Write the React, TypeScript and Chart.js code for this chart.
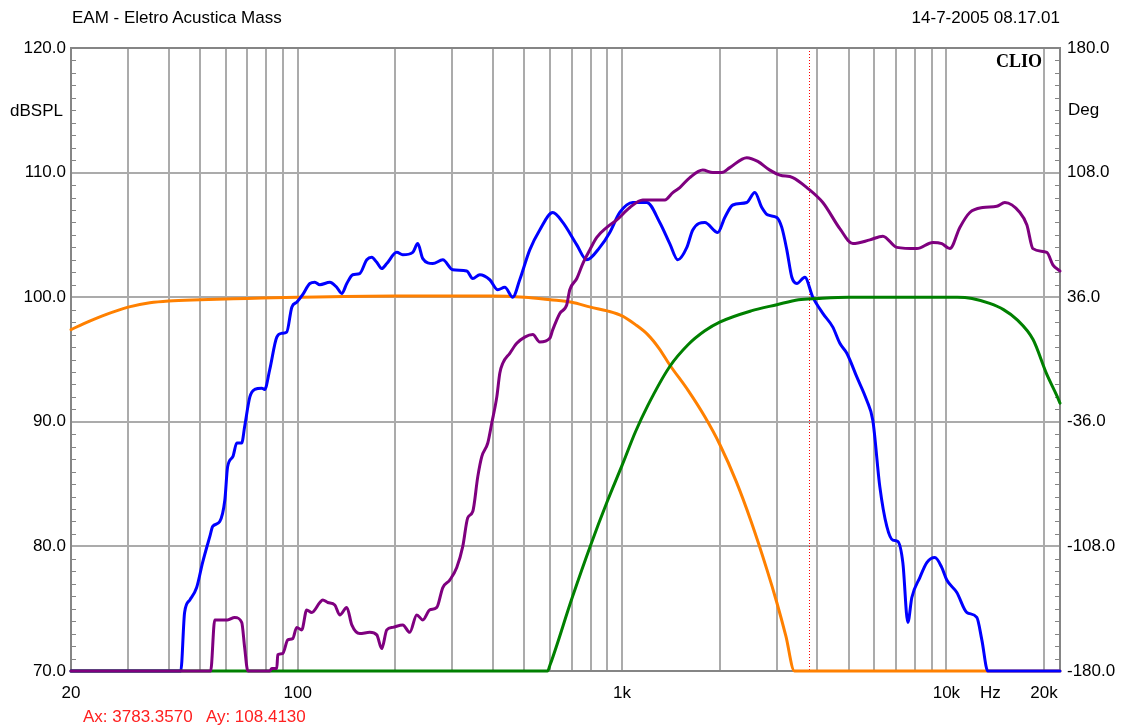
import React, { useEffect, useRef } from "react";
import { Chart, registerables } from "chart.js";

Chart.register(...registerables);

// ---- axis ticks ----
const X_GRID = [
  20, 30, 40, 50, 60, 70, 80, 90,
  100, 200, 300, 400, 500, 600, 700, 800, 900,
  1000, 2000, 3000, 4000, 5000, 6000, 7000, 8000, 9000,
  10000, 20000,
];
const X_LABELS: Record<number, string> = { 20: "20", 100: "100", 1000: "1k", 10000: "10k", 20000: "20k" };
const DB_TICKS = [70, 80, 90, 100, 110, 120];
const DEG_TICKS = [-180, -108, -36, 36, 108, 180];
const CURSOR_HZ = 3783.357;

// ---- series (Hz, dB SPL) ----
const BLUE_F = [20, 43.6, 44.8, 46.5, 48.8, 50.9, 53.6, 54.7, 57.5, 59.6, 60.8, 63.1, 64.9, 67.2, 68.6, 71.2, 73.7, 77.5, 79.1, 82.0, 86.2, 89.3, 92.5, 95.9, 99.3, 103.6, 109.0, 112.9, 117.0, 125.6, 131.9, 136.7, 141.7, 147.8, 155.3, 163.3, 169.1, 175.3, 181.6, 188.2, 202, 210.8, 226.3, 234.5, 243, 260.9, 280.1, 300.6, 332, 346.5, 364.2, 391, 413.9, 435, 460.3, 483.7, 519.3, 557.5, 611.6, 656.6, 725.2, 778.4, 853.7, 916.6, 984, 1079, 1192, 1307, 1403, 1485, 1584, 1652, 1799, 1973, 2074, 2195, 2424, 2566, 2697, 2813, 3000, 3108, 3221, 3338, 3458, 3660, 3874, 4159, 4465, 4693, 4932, 5294, 5684, 5932, 6233, 6551, 6836, 7084, 7340, 7605, 7824, 8281, 8702, 9213, 9681, 10030, 10770, 11560, 12410, 12860, 13420, 22400];
const BLUE_DB = [70, 70, 74.7, 75.7, 76.7, 78.7, 80.8, 81.6, 82.0, 83.7, 86.4, 87.2, 88.3, 88.3, 89.6, 92.0, 92.6, 92.7, 92.6, 94.2, 96.8, 97.1, 97.2, 99.2, 99.6, 100.2, 101.1, 101.2, 101.0, 101.2, 100.8, 100.3, 101.1, 101.8, 101.9, 103.0, 103.2, 102.8, 102.3, 102.7, 103.6, 103.4, 103.6, 104.3, 103.1, 102.7, 103.0, 102.2, 102.1, 101.5, 101.8, 101.4, 100.6, 100.8, 100.0, 101.4, 103.8, 105.4, 106.8, 106.0, 104.2, 103.0, 104.0, 105.2, 106.8, 107.6, 107.6, 106.0, 104.3, 103.0, 104.0, 105.4, 106.0, 105.2, 106.4, 107.4, 107.6, 108.4, 107.2, 106.6, 106.4, 105.6, 103.8, 101.6, 101.1, 101.6, 100.0, 98.7, 97.6, 96.3, 95.5, 93.6, 91.7, 90.1, 84.8, 81.6, 80.5, 80.4, 78.7, 73.9, 75.9, 77.5, 78.7, 79.1, 78.3, 77.3, 76.3, 74.7, 74.3, 72.5, 70, 70];

const PURPLE_F = [20, 53.9, 55.5, 60.8, 63.9, 67.2, 68.6, 70.2, 82.0, 83.2, 86.2, 86.8, 89.9, 93.2, 96.5, 99.3, 102.9, 106.6, 110.5, 117.0, 119.5, 123.8, 130.1, 134.8, 141.7, 146.8, 155.3, 166.8, 175.3, 181.6, 188.2, 196.4, 210.8, 221.5, 232.8, 243.0, 255.3, 268.4, 280.1, 294.3, 309.3, 322.8, 334.4, 346.5, 359.1, 369.4, 385.5, 396.6, 411.0, 419.8, 428.8, 450.7, 473.6, 501.2, 530.6, 557.5, 598.6, 611.6, 642.7, 675.4, 690.0, 725.2, 756.8, 795.3, 835.8, 897.4, 963.4, 1057, 1158, 1244, 1355, 1434, 1507, 1618, 1774, 1905, 2030, 2149, 2424, 2621, 2855, 3065, 3360, 3712, 4159, 4693, 5146, 5806, 6368, 7035, 8107, 9082, 9681, 10250, 11000, 11810, 12950, 14300, 15140, 16850, 17710, 18480, 20400, 21290, 22400];
const PURPLE_DB = [70, 70, 74.1, 74.1, 74.3, 73.9, 71.9, 70, 70, 70.2, 70.2, 71.3, 71.4, 72.5, 72.6, 73.5, 73.3, 74.9, 74.7, 75.5, 75.7, 75.5, 75.3, 74.5, 75.1, 73.7, 73.0, 73.1, 72.9, 71.8, 73.3, 73.5, 73.7, 73.1, 74.5, 74.1, 74.9, 75.1, 76.7, 77.3, 78.3, 80.0, 82.3, 82.8, 85.6, 87.2, 88.3, 89.9, 92.0, 93.9, 94.7, 95.5, 96.3, 96.8, 97.0, 96.4, 96.7, 97.4, 98.7, 99.4, 100.6, 101.5, 102.7, 103.8, 104.8, 105.6, 106.2, 107.2, 107.8, 107.8, 107.8, 108.4, 108.8, 109.6, 110.2, 110.0, 110.0, 110.4, 111.2, 110.9, 110.2, 109.8, 109.6, 108.8, 107.6, 105.5, 104.3, 104.6, 104.9, 104.0, 103.9, 104.4, 104.3, 103.9, 105.6, 106.8, 107.2, 107.3, 107.6, 106.8, 105.8, 103.9, 103.6, 102.6, 102.1];

const ORANGE_F = [20, 22, 25, 30, 35, 40, 50, 70, 100, 200, 400, 500, 600, 700, 800, 900, 1000, 1100, 1200, 1300, 1400, 1600, 1800, 2000, 2250, 2500, 2800, 3000, 3200, 3400, 22400];
const ORANGE_DB = [97.4, 97.9, 98.5, 99.2, 99.55, 99.7, 99.8, 99.9, 100.0, 100.1, 100.1, 100.0, 99.8, 99.6, 99.2, 98.9, 98.5, 97.8, 97.0, 95.9, 94.6, 92.5, 90.4, 88.2, 85.2, 82.0, 78.1, 75.5, 72.8, 70.0, 70.0];

const GREEN_F = [20, 589, 600, 700, 800, 900, 1000, 1100, 1200, 1400, 1600, 1800, 2000, 2500, 3000, 3500, 4000, 5000, 10000, 10800, 12000, 13600, 15000, 16500, 18500, 20400, 21900, 22400];
const GREEN_DB = [70, 70, 70.5, 75.8, 80.1, 83.6, 86.5, 89.2, 91.3, 94.4, 96.2, 97.3, 98.0, 98.9, 99.4, 99.8, 99.9, 100.0, 100.0, 100.0, 99.9, 99.5, 99.0, 98.2, 96.6, 93.8, 92.1, 91.5];

const FONT = '"Liberation Sans", Arial, sans-serif';
const GRID = "#ababab";
const FRAME = "#858585";

const zip = (f: number[], v: number[]) => f.map((x, i) => ({ x, y: v[i] }));

const framePlugin = {
  id: "clioFrame",
  beforeDatasetsDraw(chart: any) {
    const { ctx, chartArea: a, scales } = chart;
    ctx.save();
    // cursor
    const cx = Math.round(scales.x.getPixelForValue(CURSOR_HZ)) + 0.5;
    ctx.strokeStyle = "#ff0000";
    ctx.lineWidth = 1;
    ctx.setLineDash([1, 2]);
    ctx.beginPath();
    ctx.moveTo(cx, a.top);
    ctx.lineTo(cx, a.bottom);
    ctx.stroke();
    ctx.setLineDash([]);
    // minor ticks (1 dB)
    ctx.strokeStyle = FRAME;
    ctx.lineWidth = 1;
    ctx.beginPath();
    for (let v = 71; v < 120; v++) {
      if (v % 10 === 0) continue;
      const y = Math.round(scales.y.getPixelForValue(v)) + 0.5;
      ctx.moveTo(a.left, y);
      ctx.lineTo(a.left + 5, y);
      ctx.moveTo(a.right - 5, y);
      ctx.lineTo(a.right, y);
    }
    ctx.stroke();
    // frame
    ctx.lineWidth = 2;
    ctx.strokeStyle = FRAME;
    ctx.strokeRect(a.left, a.top, a.right - a.left, a.bottom - a.top);
    ctx.restore();
  },
};

const line = (data: { x: number; y: number }[], color: string) => ({
  data,
  borderColor: color,
  backgroundColor: color,
  borderWidth: 3,
  pointRadius: 0,
  cubicInterpolationMode: "monotone" as const,
  fill: false,
  clip: 4,
  borderJoinStyle: "round" as const,
  borderCapStyle: "round" as const,
  xAxisID: "x",
  yAxisID: "y",
});

const tickFont = { family: FONT, size: 17 };

function Label(props: { left: number; cy: number; text: string; style?: React.CSSProperties }) {
  return (
    <div
      style={{
        position: "absolute",
        left: props.left,
        top: props.cy - 10,
        height: 20,
        lineHeight: "20px",
        fontFamily: FONT,
        fontSize: 17,
        color: "#000",
        whiteSpace: "pre",
        ...props.style,
      }}
    >
      {props.text}
    </div>
  );
}

export default function App() {
  const ref = useRef<HTMLCanvasElement>(null);

  useEffect(() => {
    if (!ref.current) return;
    const chart = new Chart(ref.current, {
      type: "line",
      data: {
        datasets: [
          line(zip(PURPLE_F, PURPLE_DB), "#7f007f"),
          line(zip(GREEN_F, GREEN_DB), "#008000"),
          line(zip(BLUE_F, BLUE_DB), "#0000ff"),
          line(zip(ORANGE_F, ORANGE_DB), "#ff8000"),
        ] as any,
      },
      options: {
        responsive: false,
        maintainAspectRatio: false,
        animation: false,
        events: [],
        parsing: false as any,
        layout: { padding: { top: 48, left: 0, right: 0, bottom: 0 } },
        plugins: { legend: { display: false }, tooltip: { enabled: false }, title: { display: false } },
        scales: {
          x: {
            type: "logarithmic",
            min: 20,
            max: 22400,
            afterBuildTicks: (s: any) => {
              s.ticks = X_GRID.map((v) => ({ value: v }));
            },
            afterFit: (s: any) => {
              s.height = 55;
            },
            ticks: {
              autoSkip: false,
              maxRotation: 0,
              minRotation: 0,
              padding: 12,
              color: "#000",
              font: tickFont,
              callback: (v: any) => X_LABELS[Number(v)] ?? "",
            },
            grid: { color: GRID, lineWidth: 2, drawTicks: false },
            border: { display: false },
          },
          y: {
            type: "linear",
            position: "left",
            min: 70,
            max: 120,
            afterBuildTicks: (s: any) => {
              s.ticks = DB_TICKS.map((v) => ({ value: v }));
            },
            afterFit: (s: any) => {
              s.width = 71;
            },
            ticks: {
              padding: 5,
              color: "#000",
              font: tickFont,
              callback: (v: any) => Number(v).toFixed(1),
            },
            grid: { color: GRID, lineWidth: 2, drawTicks: false },
            border: { display: false },
          },
          y2: {
            type: "linear",
            position: "right",
            min: -180,
            max: 180,
            afterBuildTicks: (s: any) => {
              s.ticks = DEG_TICKS.map((v) => ({ value: v }));
            },
            afterFit: (s: any) => {
              s.width = 66;
            },
            ticks: {
              padding: 7,
              color: "#000",
              font: tickFont,
              callback: (v: any) => Number(v).toFixed(1),
            },
            grid: { display: false, drawTicks: false },
            border: { display: false },
          },
        },
      } as any,
      plugins: [framePlugin],
    });
    return () => chart.destroy();
  }, []);

  return (
    <div style={{ position: "absolute", left: 0, top: 0, width: 1126, height: 726, background: "#fff", overflow: "hidden" }}>
      <canvas ref={ref} width={1126} height={726} style={{ position: "absolute", left: 0, top: 0 }} />
      <Label left={72} cy={18} text="EAM - Eletro Acustica Mass" />
      <Label left={760} cy={18} text="14-7-2005 08.17.01" style={{ width: 300, textAlign: "right" }} />
      <Label left={10} cy={111} text="dBSPL" />
      <Label left={1068} cy={110} text="Deg" />
      <Label left={980} cy={693} text="Hz" />
      <Label
        left={996}
        cy={61}
        text="CLIO"
        style={{ fontFamily: '"Liberation Serif", "Times New Roman", serif', fontWeight: "bold", fontSize: 18 }}
      />
      <Label left={83} cy={717} text="Ax: 3783.3570   Ay: 108.4130" style={{ color: "#ff2020" }} />
    </div>
  );
}
